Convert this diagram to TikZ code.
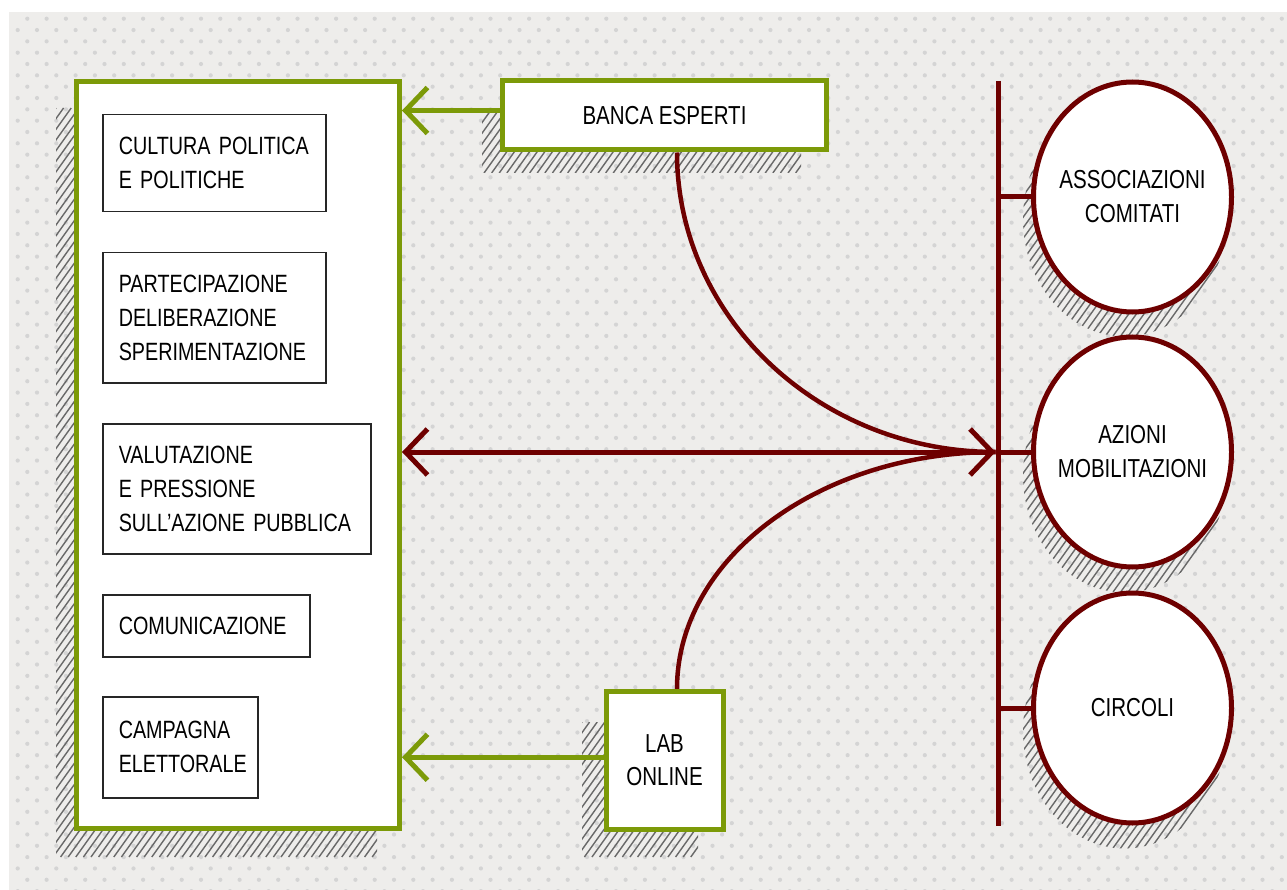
\documentclass[tikz,border=0pt]{standalone}
\usepackage{fontspec}
\setmainfont[FakeStretch=0.79]{Liberation Sans}
\usetikzlibrary{arrows.meta,shapes.geometric,calc}
\pgfdeclarelayer{bg}
\pgfdeclarelayer{mid}
\pgfsetlayers{bg,mid,main}
\definecolor{olv}{RGB}{124,154,8}
\definecolor{mrn}{RGB}{110,0,0}
\definecolor{paper}{RGB}{238,237,235}
\definecolor{dotc}{RGB}{212,212,212}
\definecolor{hatchc}{RGB}{105,105,105}
\newcommand\hatchlines[4]{%
  \pgfmathsetmacro\hH{(#4)-(#2)}%
  \pgfmathsetmacro\hD{\hH/1.4}%
  \pgfmathsetmacro\hA{(#1)-\hD}%
  \pgfmathsetmacro\hB{\hA+7.6}%
  \pgfmathsetmacro\hE{#3}%
  \pgfmathsetmacro\hY{#4}%
  \foreach \hx in {\hA,\hB,...,\hE} {\draw[hatchline] (\hx,\hY) -- ++(\hD,-\hH);}%
}
\newcommand\shadowrect[4]{%
  \begin{scope}\clip (#1,#2) rectangle (#3,#4);\hatchlines{#1}{#2}{#3}{#4}\end{scope}}
\newcommand\shadowell[2]{%
  \begin{scope}\clip (#1,#2) ellipse [x radius=101.5pt, y radius=117.5pt];
  \hatchlines{#1-102}{#2-118}{#1+102}{#2+118}\end{scope}}
\newcommand\zc[1]{\makebox[0pt]{#1}}
\tikzset{
  hatchline/.style={draw=hatchc, line width=1.4pt},
  gbox/.style={draw=olv, line width=5pt, fill=white, inner sep=0pt,
    font=\fontsize{26}{33}\selectfont, align=center},
  ibox/.style={draw=black!85, line width=1.5pt, fill=white, inner xsep=16pt, inner ysep=0pt,
    anchor=north west, align=left, font=\fontsize{25}{34}\selectfont},
  cir/.style={ellipse, draw=mrn, line width=5pt, fill=white, inner sep=0pt,
    minimum width=198pt, minimum height=230pt, align=center,
    font=\fontsize{26}{34}\selectfont},
  barb/.tip={Straight Barb[length=22pt,width=46pt]},
  gline/.style={draw=olv, line width=5pt, -barb},
  mline/.style={draw=mrn, line width=5pt},
  mcurve/.style={draw=mrn, line width=4.5pt},
}
\begin{document}
\begin{tikzpicture}[x=1pt,y=-1pt]
\useasboundingbox (0,0) rectangle (1287,890);
\begin{pgfonlayer}{bg}
  \fill[white] (0,0) rectangle (1287,890);
  \fill[paper] (9,12) rectangle (1287,890);
  \foreach \r in {0,...,77}{
    \pgfmathsetmacro\dy{18.7+11.33*\r}
    \pgfmathsetmacro\dx{ifthenelse(mod(\r,2)==0,27.3,17.7)}
    \fill[dotc] \foreach \c in {0,...,66}{(\dx+19.3*\c,\dy) circle (2.1pt)};
  }
  \shadowrect{56}{108}{377}{857}
  \shadowrect{482}{112}{801}{173}
  \shadowrect{582}{722}{698}{857}
  \shadowell{1124.5}{219}
  \shadowell{1124.5}{475}
  \shadowell{1124.5}{731}
\end{pgfonlayer}

% nodes
\node[gbox, minimum width=323.5pt, minimum height=747pt] (main) at (237.75,455) {};
\node[gbox, minimum width=324pt, minimum height=69pt] (banca) at (664.5,115.5) {BANCA ESPERTI};
\node[gbox, minimum width=117pt, minimum height=137.5pt] (lab) at (664.5,760.25) {LAB\\ONLINE};
\node[cir] (c1) at (1132.5,197) {\zc{ASSOCIAZIONI}\\\zc{COMITATI}};
\node[cir] (c2) at (1132.5,452) {\zc{AZIONI}\\\zc{MOBILITAZIONI}};
\node[cir] (c3) at (1132.5,708) {\zc{CIRCOLI}};

\node[ibox, text width=191pt, minimum height=97pt] (b1) at (102,114)
  {\mbox{CULTURA POLITICA}\\\mbox{E POLITICHE}};
\node[ibox, text width=191pt, minimum height=130pt] (b2) at (102,252)
  {\mbox{PARTECIPAZIONE}\\\mbox{DELIBERAZIONE}\\\mbox{SPERIMENTAZIONE}};
\node[ibox, text width=236pt, minimum height=130pt] (b3) at (102,423)
  {\mbox{VALUTAZIONE}\\\mbox{E PRESSIONE}\\\mbox{SULL’AZIONE PUBBLICA}};
\node[ibox, text width=175pt, minimum height=62pt] (b4) at (102,594)
  {\mbox{COMUNICAZIONE}};
\node[ibox, text width=123pt, minimum height=101pt] (b5) at (102,696)
  {\mbox{CAMPAGNA}\\\mbox{ELETTORALE}};

% connectors
\coordinate (bt) at (998,81);
\coordinate (bb) at (998,826);
\coordinate (ga) at ([yshift=5pt]banca.west);
\coordinate (gb) at ([yshift=3pt]lab.west);
\coordinate (cs1) at ([xshift=12.5pt]banca.south);
\coordinate (cs2) at ([xshift=12.5pt]lab.north);
\begin{pgfonlayer}{mid}
  \draw[gline] (ga) -- (main.east |- ga);
  \draw[gline] (gb) -- (main.east |- gb);
  \draw[mline] (bt) -- (bb);
  \draw[mline] (bt |- c1.west) -- (c1.west);
  \draw[mline] (bt |- c3.west) -- (c3.west);
  \draw[mline] (bt |- c2.west) -- (c2.west);
  \coordinate (tip) at ($(bt |- c2.west)+(-2.5,0)$);
  \draw[mline, barb-barb] (main.east |- c2.west) -- (tip);
  \draw[mcurve] (cs1) .. controls +(0,165) and +(-176,0) .. (tip);
  \draw[mcurve] (cs2) .. controls +(0,-131) and +(-176,0) .. (tip);
\end{pgfonlayer}
\end{tikzpicture}
\end{document}
